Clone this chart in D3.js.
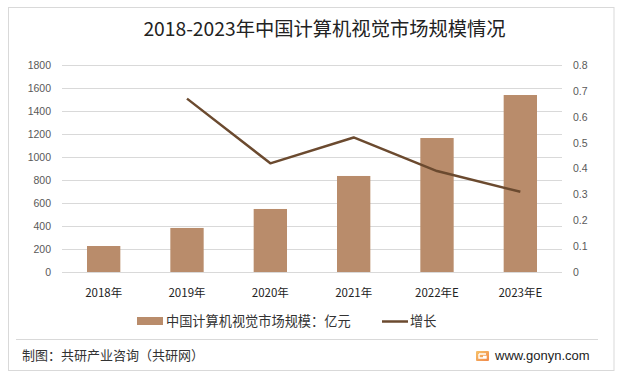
<!DOCTYPE html>
<html><head><meta charset="utf-8">
<script src="https://cdn.jsdelivr.net/npm/d3@7/dist/d3.min.js"></script>
<style>html,body{margin:0;padding:0;background:#fff;}svg{display:block;}</style>
</head><body>
<script>
const categories = ["2018年","2019年","2020年","2021年","2022年E","2023年E"];
const marketSize = [226, 383, 548, 835, 1165, 1539];
const growth = [null, 0.67, 0.42, 0.52, 0.39, 0.31];
const leftTicks = [0,200,400,600,800,1000,1200,1400,1600,1800];
const rightTicks = [0,0.1,0.2,0.3,0.4,0.5,0.6,0.7,0.8];
const title = "2018-2023年中国计算机视觉市场规模情况";
const seriesNames = ["中国计算机视觉市场规模：亿元","增长"];
const source = "制图：共研产业咨询（共研网）";
const site = "www.gonyn.com";

const W = 623, H = 380;
const cjk = "'Noto Sans CJK SC','Noto Sans',sans-serif";
const svg = d3.select("body").append("svg").attr("width", W).attr("height", H);

svg.append("rect").attr("x", 8.5).attr("y", 7.5).attr("width", 605.5).attr("height", 363)
  .attr("fill", "#fff").attr("stroke", "#d9d9d9");

svg.append("text").attr("x", 324.5).attr("y", 36).attr("text-anchor", "middle")
  .attr("font-family", cjk).attr("font-size", 19.3).attr("fill", "#222").text(title);

const x = d3.scaleBand().domain(categories).range([62, 562]).paddingInner(0.6).paddingOuter(0.3);
const yL = d3.scaleLinear().domain([0, 1800]).range([272, 65]);
const yR = d3.scaleLinear().domain([0, 0.8]).range([272, 65]);

// gridlines
svg.append("g").selectAll("line").data(leftTicks).join("line")
  .attr("x1", 62).attr("x2", 562)
  .attr("y1", d => Math.round(yL(d)) + 0.5).attr("y2", d => Math.round(yL(d)) + 0.5)
  .attr("stroke", "#d9d9d9").attr("stroke-width", 1);

// left axis
const axL = svg.append("g").attr("transform", "translate(56,0)")
  .call(d3.axisLeft(yL).tickValues(leftTicks).tickSize(0).tickPadding(5).tickFormat(d3.format("d")));
axL.select(".domain").remove();
axL.selectAll("text").attr("font-family", "'Liberation Sans',Arial,sans-serif").attr("font-size", 10.5).attr("fill", "#595959");

// right axis
const axR = svg.append("g").attr("transform", "translate(568,0)")
  .call(d3.axisRight(yR).tickValues(rightTicks).tickSize(0).tickPadding(5).tickFormat(d => d === 0 ? "0" : d3.format(".1f")(d)));
axR.select(".domain").remove();
axR.selectAll("text").attr("font-family", "'Liberation Sans',Arial,sans-serif").attr("font-size", 10.5).attr("fill", "#595959");

// x axis labels
const axX = svg.append("g").attr("transform", "translate(0,282)")
  .call(d3.axisBottom(x).tickSize(0).tickPadding(7));
axX.select(".domain").remove();
axX.selectAll("text").attr("font-family", cjk).attr("font-size", 11.5).attr("fill", "#222");

// bars
svg.append("g").selectAll("rect").data(marketSize).join("rect")
  .attr("x", (d, i) => x(categories[i]))
  .attr("width", x.bandwidth())
  .attr("y", d => yL(d))
  .attr("height", d => yL(0) - yL(d))
  .attr("fill", "#b98c6b");

// line
const lineData = growth.map((g, i) => ({c: categories[i], g})).filter(d => d.g !== null);
svg.append("path").datum(lineData)
  .attr("d", d3.line().x(d => x(d.c) + x.bandwidth() / 2).y(d => yR(d.g)))
  .attr("fill", "none").attr("stroke", "#6b4a2f").attr("stroke-width", 2.5).attr("stroke-linejoin", "round");

// legend
const lg = svg.append("g");
lg.append("rect").attr("x", 137).attr("y", 317).attr("width", 26).attr("height", 8).attr("fill", "#b98c6b");
lg.append("text").attr("x", 166).attr("y", 326).attr("font-family", cjk).attr("font-size", 13.2).attr("fill", "#333").text(seriesNames[0]);
lg.append("line").attr("x1", 382).attr("x2", 408).attr("y1", 321.5).attr("y2", 321.5).attr("stroke", "#6b4a2f").attr("stroke-width", 2.5);
lg.append("text").attr("x", 410).attr("y", 326).attr("font-family", cjk).attr("font-size", 13.2).attr("fill", "#333").text(seriesNames[1]);

// footer
svg.append("line").attr("x1", 16).attr("x2", 598).attr("y1", 339.5).attr("y2", 339.5).attr("stroke", "#d9d9d9");
svg.append("text").attr("x", 22).attr("y", 360).attr("font-family", cjk).attr("font-size", 13).attr("fill", "#333").text(source);
const logo = svg.append("g").attr("transform", "translate(476,351)");
const grad = svg.append("defs").append("linearGradient").attr("id", "lg1").attr("x1", 0).attr("y1", 0).attr("x2", 1).attr("y2", 1);
grad.append("stop").attr("offset", 0).attr("stop-color", "#f7c36a");
grad.append("stop").attr("offset", 1).attr("stop-color", "#f0884a");
logo.append("rect").attr("width", 13).attr("height", 10).attr("rx", 1).attr("fill", "url(#lg1)");
logo.append("path").attr("d", "M3,3 H10 M3,3 V7 H10 V5.5 H7").attr("fill", "none").attr("stroke", "#fff").attr("stroke-width", 1.4);
svg.append("text").attr("x", 495).attr("y", 360).attr("font-family", "'Liberation Sans',Arial,sans-serif").attr("font-size", 13).attr("fill", "#222").text(site);
</script>
</body></html>
